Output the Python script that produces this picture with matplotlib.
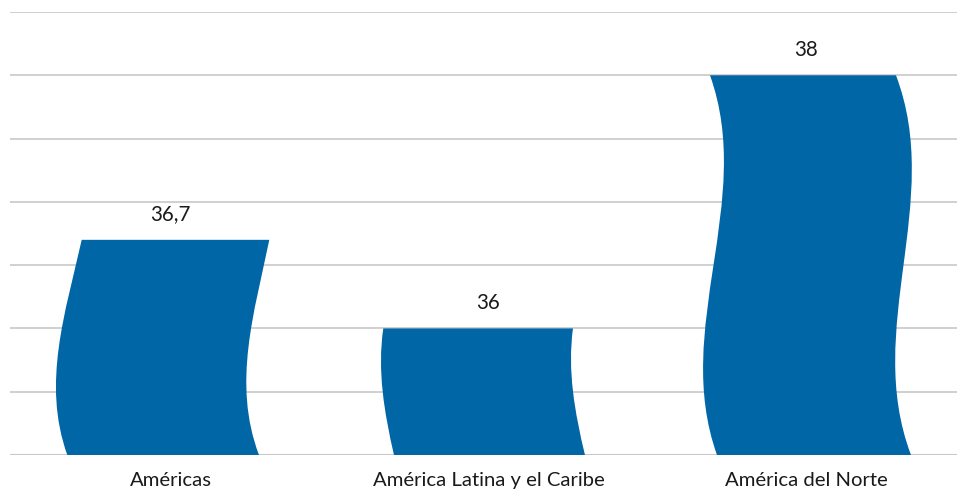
import matplotlib
matplotlib.use("Agg")
import matplotlib.pyplot as plt
from matplotlib.path import Path
from matplotlib.patches import PathPatch
import numpy as np

# ---- data ----
categories = ["Américas", "América Latina y el Caribe", "América del Norte"]
values = [36.7, 36.0, 38.0]
value_labels = ["36,7", "36", "38"]

# ---- style ----
bar_color = "#0066a6"
grid_color = "#c8c8c8"
y_min, y_max, y_step = 35.0, 38.5, 0.5

# wavy-edge shape per bar (cubic Bezier control offsets of the left edge,
# relative to category center, in category units; widths at bottom/top)
wave_left = [(-0.3245, -0.4057, -0.3299, -0.2792),
             (-0.2972, -0.3277, -0.3503, -0.3308),
             (-0.2814, -0.4239, -0.1610, -0.3035)]
wave_width = [(0.6028, 0.5899), (0.6006, 0.5965), (0.6101, 0.5849)]

plt.rcParams["font.family"] = ["Lato", "DejaVu Sans"]

fig = plt.figure(figsize=(9.57, 4.90), dpi=100)
ax = fig.add_axes([10 / 957, 35 / 490, 947 / 957, (455 - 12) / 490])

ax.set_xlim(-0.5047, 2.4733)
ax.set_ylim(y_min, y_max)
ax.set_yticks(np.arange(y_min, y_max + 1e-9, y_step))
ax.yaxis.grid(True, color=grid_color, linewidth=1.2)
ax.set_axisbelow(True)
ax.tick_params(axis="y", left=False, labelleft=False)
for s in ax.spines.values():
    s.set_visible(False)

for i, (v, lab) in enumerate(zip(values, value_labels)):
    L = wave_left[i]
    w0, w1 = wave_width[i]
    ys = [y_min + (v - y_min) * k / 3 for k in range(4)]
    lx = [i + L[k] for k in range(4)]
    rx = [lx[k] + w0 + (w1 - w0) * k / 3 for k in range(4)]
    verts = [(lx[0], ys[0]), (rx[0], ys[0]),
             (rx[1], ys[1]), (rx[2], ys[2]), (rx[3], ys[3]),
             (lx[3], ys[3]),
             (lx[2], ys[2]), (lx[1], ys[1]), (lx[0], ys[0]),
             (lx[0], ys[0])]
    codes = [Path.MOVETO, Path.LINETO,
             Path.CURVE4, Path.CURVE4, Path.CURVE4,
             Path.LINETO,
             Path.CURVE4, Path.CURVE4, Path.CURVE4,
             Path.CLOSEPOLY]
    ax.add_patch(PathPatch(Path(verts, codes), facecolor=bar_color,
                           edgecolor="none", zorder=2))
    ax.annotate(lab, (i, v), xytext=(0, 14.2), textcoords="offset points",
                ha="center", va="baseline", fontsize=14.8, color="#1a1a1a")

ax.axhline(y_min, color=grid_color, linewidth=1.5, zorder=1)
ax.set_xticks(range(len(categories)))
ax.set_xticklabels(categories, fontsize=14.6, color="#1a1a1a")
ax.tick_params(axis="x", length=0, pad=12.5)

fig.savefig("out.png", dpi=100)
